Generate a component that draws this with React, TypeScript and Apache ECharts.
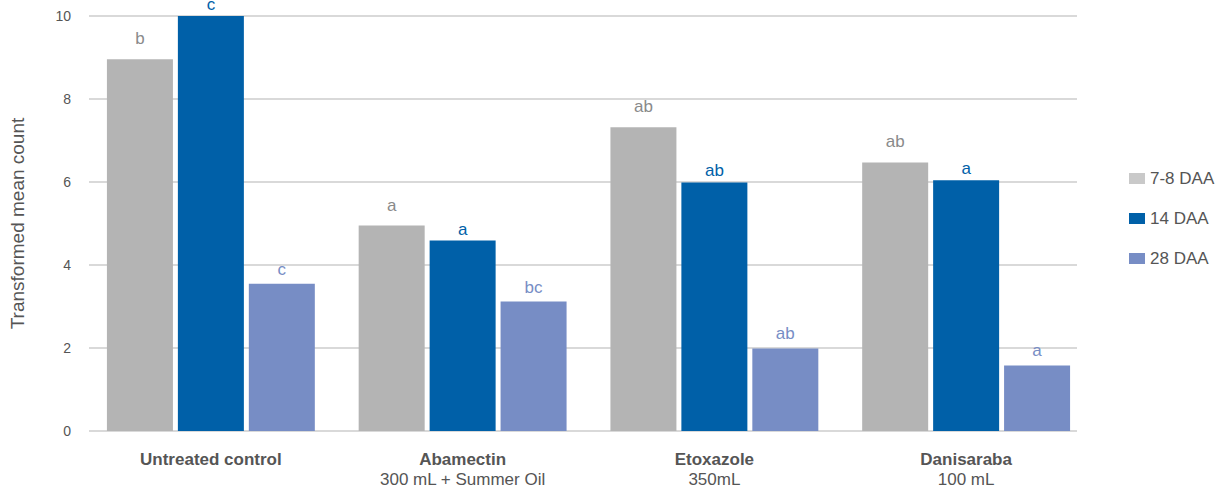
import React, { useEffect, useRef } from "react";
import * as echarts from "echarts";

const categories = ["Untreated control", "Abamectin", "Etoxazole", "Danisaraba"];
const subLabels = ["", "300 mL + Summer Oil", "350mL", "100 mL"];
const seriesNames = ["7-8 DAA", "14 DAA", "28 DAA"];
const daa7 = [8.96, 4.95, 7.32, 6.47];
const daa14 = [10.0, 4.59, 5.99, 6.04];
const daa28 = [3.55, 3.12, 1.99, 1.58];
const letters7 = ["b", "a", "ab", "ab"];
const letters14 = ["c", "a", "ab", "a"];
const letters28 = ["c", "bc", "ab", "a"];

const barColors = ["#b4b4b4", "#0060a8", "#778dc5"];
const legendColors = ["#c9c9c9", "#0060a8", "#778dc5"];
const labelColors = ["#8a8a8a", "#0060a8", "#778dc5"];
const labelDistances = [12, 3, 6];

export default function App() {
  const ref = useRef<HTMLDivElement>(null);
  useEffect(() => {
    if (!ref.current) return;
    const chart = echarts.init(ref.current, undefined, { renderer: "svg" });
    const datasets = [daa7, daa14, daa28];
    const letters = [letters7, letters14, letters28];
    const font = "'Liberation Sans', Arial, Helvetica, sans-serif";
    chart.setOption({
      animation: false,
      textStyle: { fontFamily: font },
      grid: [
        { left: 89, right: 143, top: 16, bottom: 58 },
        { left: 85, right: 128, top: 16, bottom: 58 },
      ],
      legend: {
        orient: "vertical",
        left: 1129,
        top: 170,
        padding: 0,
        itemWidth: 16,
        itemHeight: 11,
        itemGap: 23,
        icon: "rect",
        textStyle: { fontSize: 17, color: "#555555", fontFamily: font },
        data: seriesNames.map((n, i) => ({ name: n, itemStyle: { color: legendColors[i] } })),
      },
      xAxis: [
        { type: "category", gridIndex: 0, data: categories, show: false },
        {
          type: "category",
          gridIndex: 1,
          data: categories,
          axisTick: { show: false },
          axisLine: { show: false },
          axisLabel: {
            margin: 18,
            interval: 0,
            formatter: (v: string, idx: number) =>
              subLabels[idx] ? `{b|${v}}\n{s|${subLabels[idx]}}` : `{b|${v}}`,
            rich: {
              b: { fontWeight: "bold", fontSize: 17, color: "#555555", lineHeight: 20, fontFamily: font },
              s: { fontSize: 17, color: "#555555", lineHeight: 20, fontFamily: font },
            },
          },
        },
      ],
      yAxis: [
        {
          type: "value",
          gridIndex: 0,
          min: 0,
          max: 10,
          interval: 2,
          name: "Transformed mean count",
          nameLocation: "middle",
          nameGap: 62,
          nameTextStyle: { fontSize: 19, color: "#555555", fontFamily: font },
          axisLine: { show: false },
          axisTick: { show: false },
          axisLabel: { fontSize: 14, color: "#555555", margin: 18 },
          splitLine: { lineStyle: { color: "#d9d9d9", width: 2 } },
        },
        {
          type: "value",
          gridIndex: 1,
          min: 0,
          max: 10,
          interval: 2,
          show: false,
          splitLine: { show: false },
        },
      ],
      series: seriesNames.map((name, i) => ({
        name,
        type: "bar",
        xAxisIndex: 1,
        yAxisIndex: 1,
        data: datasets[i],
        barWidth: 66,
        barGap: "7.5%",
        itemStyle: { color: barColors[i] },
        label: {
          show: true,
          position: "top",
          distance: labelDistances[i],
          fontSize: 17,
          color: labelColors[i],
          fontFamily: font,
          formatter: (p: any) => letters[i][p.dataIndex],
        },
      })),
    });
    return () => chart.dispose();
  }, []);
  return <div ref={ref} style={{ width: 1220, height: 489, position: "absolute", left: 0, top: 0 }} />;
}
